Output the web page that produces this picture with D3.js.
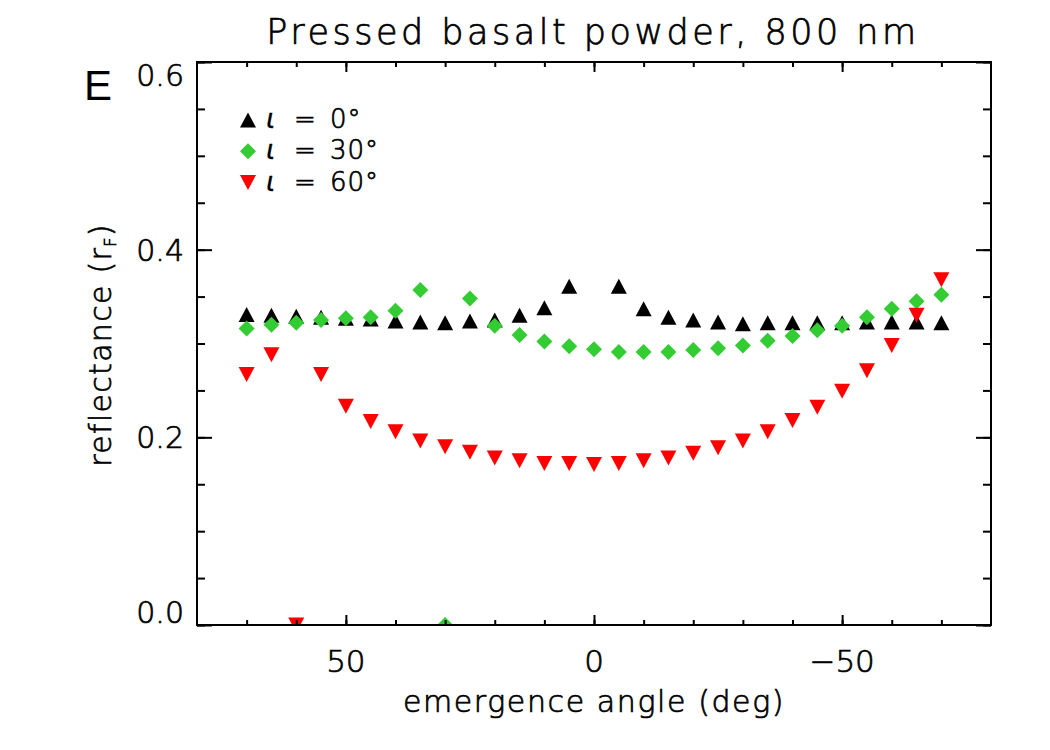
<!DOCTYPE html>
<html lang="en">
<head>
    <meta charset="UTF-8">
    <title>Pressed basalt powder, 800 nm</title>
    <script src="https://cdn.jsdelivr.net/npm/d3@7"></script>
    <style>
    body {
        margin: 0;
        background: #fff;
    }
    svg text {
        font-family: "DejaVu Sans", sans-serif;
        font-weight: 200;
        fill: #000;
        stroke: #000;
        stroke-width: 0.7px;
    }
    svg text.panel {
        font-family: "Liberation Sans", Arial, sans-serif;
        font-weight: 400;
        stroke: none;
    }
    .frame {
        fill: none;
        stroke: #000;
        stroke-width: 2;
    }
    .tick line {
        stroke: #000;
        stroke-width: 2;
    }
    </style>
</head>
<body>
    <script>
    // emergence angles (deg), same grid for all three incidence angles
    const emergence = [70, 65, 60, 55, 50, 45, 40, 35, 30, 25, 20, 15, 10, 5, 0,
        -5, -10, -15, -20, -25, -30, -35, -40, -45, -50, -55, -60, -65, -70]

    // i = 0 (no point at e = 0)
    const refl0 = [0.331, 0.330, 0.329, 0.328, 0.327, 0.326, 0.324, 0.323, 0.322, 0.324, 0.325, 0.330, 0.338, 0.361, null,
        0.361, 0.337, 0.328, 0.325, 0.323, 0.321, 0.322, 0.322, 0.322, 0.322, 0.323, 0.323, 0.323, 0.322]
    // i = 30
    const refl30 = [0.316, 0.320, 0.322, 0.325, 0.327, 0.328, 0.335, 0.357, 0.0, 0.348, 0.319, 0.309, 0.302, 0.297, 0.294,
        0.291, 0.291, 0.291, 0.293, 0.295, 0.298, 0.303, 0.308, 0.314, 0.319, 0.328, 0.337, 0.345, 0.352]
    // i = 60
    const refl60 = [0.267, 0.288, 0.0, 0.267, 0.233, 0.217, 0.206, 0.196, 0.190, 0.184, 0.178, 0.175, 0.172, 0.172, 0.171,
        0.172, 0.175, 0.178, 0.183, 0.189, 0.196, 0.206, 0.218, 0.232, 0.249, 0.271, 0.298, 0.330, 0.368]

    const seriesNames = ["0°", "30°", "60°"]
    const seriesColors = ["#000000", "#33cc33", "#ff0000"]
    const seriesShapes = ["up", "diamond", "down"]
    const seriesValues = [refl0, refl30, refl60]

    const xMajor = [50, 0, -50]
    const xMinor = d3.range(-70, 71, 10)
    const yMajor = [0, 0.2, 0.4, 0.6]
    const yMinor = d3.range(0, 0.601, 0.05)

    const width = 1050, height = 750
    const plotLeft = 197, plotRight = 991, plotTop = 62, plotBottom = 625

    const svg = d3.select("body").append("svg")
        .attr("width", width)
        .attr("height", height)

    const x = d3.scaleLinear().domain([80, -80]).range([plotLeft, plotRight])
    const y = d3.scaleLinear().domain([0, 0.6]).range([plotBottom, plotTop])

    function shapePath(shape) {
        const w = 16, h = 15
        if (shape == "up") return `M0,${-h/2}L${w/2},${h/2}L${-w/2},${h/2}Z`
        if (shape == "down") return `M0,${h/2}L${w/2},${-h/2}L${-w/2},${-h/2}Z`
        return `M0,-8L8,0L0,8L-8,0Z`
    }

    svg.append("clipPath").attr("id", "plotclip")
        .append("rect")
        .attr("x", plotLeft).attr("y", plotTop)
        .attr("width", plotRight - plotLeft).attr("height", plotBottom - plotTop)

    const plot = svg.append("g").attr("clip-path", "url(#plotclip)")

    seriesValues.forEach((vals, k) => {
        const pts = emergence.map((e, i) => ({e: e, v: vals[i]})).filter(d => d.v !== null)
        plot.append("g")
            .selectAll("path")
            .data(pts)
            .enter()
            .append("path")
            .attr("d", shapePath(seriesShapes[k]))
            .attr("fill", seriesColors[k])
            .attr("transform", d => `translate(${x(d.e)},${y(d.v)})`)
    })

    // ticks (inward, on all four sides)
    function addAxis(gen, ticks, size, tx, ty) {
        const g = svg.append("g")
            .attr("transform", `translate(${tx},${ty})`)
            .call(gen.tickValues(ticks).tickSize(size).tickFormat(""))
        g.select(".domain").remove()
        return g
    }
    addAxis(d3.axisBottom(x), xMinor, -5, 0, plotBottom)
    addAxis(d3.axisBottom(x), xMajor, -10, 0, plotBottom)
    addAxis(d3.axisTop(x), xMinor, -5, 0, plotTop)
    addAxis(d3.axisTop(x), xMajor, -10, 0, plotTop)
    addAxis(d3.axisLeft(y), yMinor, -8, plotLeft, 0)
    addAxis(d3.axisLeft(y), yMajor, -15, plotLeft, 0)
    addAxis(d3.axisRight(y), yMinor, -8, plotRight, 0)
    addAxis(d3.axisRight(y), yMajor, -15, plotRight, 0)

    svg.append("rect").attr("class", "frame")
        .attr("x", plotLeft).attr("y", plotTop)
        .attr("width", plotRight - plotLeft).attr("height", plotBottom - plotTop)

    // tick labels
    svg.append("g")
        .selectAll("text")
        .data(xMajor)
        .enter()
        .append("text")
        .attr("x", d => x(d))
        .attr("y", 672)
        .attr("text-anchor", "middle")
        .attr("font-size", 31)
        .text(d => d < 0 ? "\u2212" + Math.abs(d) : d)

    svg.append("g")
        .selectAll("text")
        .data(yMajor)
        .enter()
        .append("text")
        .attr("x", 184)
        .attr("y", d => {
            let c = y(d)
            if (d == 0) c -= 13
            if (d == 0.6) c += 13
            return c + 11
        })
        .attr("text-anchor", "end")
        .attr("font-size", 30)
        .text(d => d3.format(".1f")(d))

    // axis titles
    svg.append("text")
        .attr("x", 594)
        .attr("y", 712)
        .attr("text-anchor", "middle")
        .attr("font-size", 30)
        .attr("letter-spacing", 1.6)
        .text("emergence angle (deg)")

    const ylab = svg.append("text")
        .attr("transform", "translate(111,345) rotate(-90)")
        .attr("text-anchor", "middle")
        .attr("font-size", 30)
        .attr("letter-spacing", 1.3)
    ylab.append("tspan").text("reflectance (r")
    ylab.append("tspan").attr("font-size", 16).attr("dy", 5).text("F")
    ylab.append("tspan").attr("dy", -5).text(")")

    svg.append("text")
        .attr("x", 593)
        .attr("y", 44)
        .attr("text-anchor", "middle")
        .attr("font-size", 35)
        .attr("letter-spacing", 3.5)
        .text("Pressed basalt powder, 800 nm")

    svg.append("text")
        .attr("class", "panel")
        .attr("x", 84)
        .attr("y", 100)
        .attr("font-size", 42)
        .text("E")

    // legend
    const legend = svg.append("g")
        .selectAll("g")
        .data(seriesNames)
        .enter()
        .append("g")
        .attr("transform", (d, i) => `translate(248,${120 + i * 31.3})`)
    legend.append("path")
        .attr("d", (d, i) => shapePath(seriesShapes[i]))
        .attr("fill", (d, i) => seriesColors[i])
    legend.append("text")
        .attr("x", 18).attr("y", 8)
        .attr("font-size", 27)
        .attr("font-style", "italic")
        .attr("font-weight", "bold")
        .style("stroke-width", "0.3px")
        .text("\u03b9")
    legend.append("text")
        .attr("x", 46).attr("y", 8)
        .attr("font-size", 26)
        .text("=")
    legend.append("text")
        .attr("x", 82).attr("y", 8)
        .attr("font-size", 26)
        .attr("letter-spacing", 1)
        .text(d => d)
    </script>
</body>
</html>
